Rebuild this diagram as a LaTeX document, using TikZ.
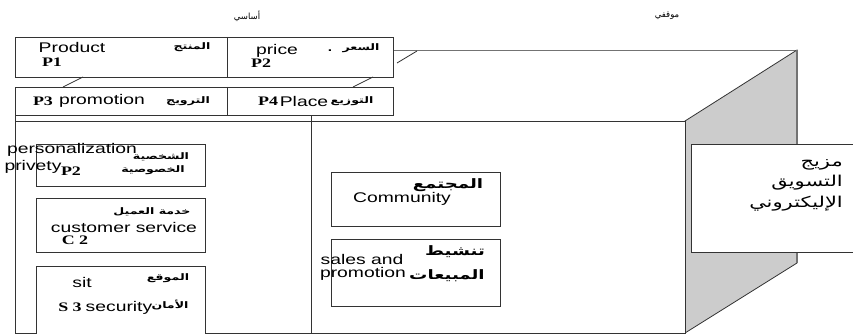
\documentclass[tikz,border=0pt]{standalone}
\usepackage{fontspec}
\TeXXeTstate=1
\newfontfamily\enfont[FakeStretch=1.38]{Liberation Sans}
\newfontfamily\sebfont[FakeStretch=1.38]{Liberation Serif}
\newfontfamily\arfont[Script=Arabic,FakeStretch=1.4]{DejaVu Sans}
\newfontfamily\arplain[Script=Arabic]{DejaVu Sans}
\begin{document}
\begin{tikzpicture}[x=1pt,y=-1pt,
  edge/.style={draw=black!80,line width=0.8pt},
  boxx/.style={draw=black!80,line width=0.8pt,fill=white},
  en/.style={inner sep=0pt,font=\enfont\fontsize{14}{16}\selectfont},
  lab/.style={inner sep=0pt,font=\sebfont\bfseries\fontsize{13}{15}\selectfont},
  ar/.style={inner sep=0pt,font=\arfont\bfseries\fontsize{9}{10}\selectfont},
  arbig/.style={inner sep=0pt,font=\arfont\bfseries\fontsize{13}{15}\selectfont},
  top/.style={inner sep=0pt,font=\arplain\fontsize{8.5}{10}\selectfont}]
\useasboundingbox (0,0) rectangle (853,334);
\clip (0,0) rectangle (853,334);
% top face of the block
\fill[white] (15,121) -- (125,50) -- (797,50) -- (685,121) -- cycle;
\draw[draw=black!55,line width=1.3pt] (393,50.5) -- (797,50.5);
% right face
\draw[edge,fill=black!20] (685,121) -- (797,50) -- (797,263) -- (685,333) -- cycle;
\draw[draw=black!55,line width=1.5pt] (797,50) -- (797,263);
% front face
\draw[boxx] (15,121) rectangle (685,333);
\draw[edge] (15,115) -- (15,333);
\draw[edge] (311,115) -- (311,333);
% P blocks
\draw[boxx] (15,37) rectangle (393,77);
\draw[edge] (227,37) -- (227,77);
\draw[boxx] (15,87) rectangle (393,115);
\draw[edge] (227,87) -- (227,115);
\draw[edge] (83,77) -- (63,87);
\draw[edge] (373,77) -- (353,87);
\draw[edge] (397,63) -- (417,51);
% inner boxes
\draw[boxx] (36,144) rectangle (205,186);
\draw[boxx] (36,198) rectangle (205,252);
\draw[boxx] (36,266) rectangle (205,336);
\draw[boxx] (331,172) rectangle (500,226);
\draw[boxx] (331,239) rectangle (500,306);
\draw[boxx] (691,144) rectangle (860,252);
% labels
\node[top] (basic) at (247,16) {\beginR أساسي\endR};
\node[top] (situ) at (667,16) {\beginR موقفي\endR};
\node[en] (product) at (72,47) {Product};
\node[lab] (p1) at (52,62) {P1};
\node[ar] (prodar) at (192,47) {\beginR المنتج\endR};
\node[en] (price) at (277,50.5) {price};
\node[lab] (p2) at (261,63) {P2};
\node[ar] (dot) at (330,51) {.};
\node[ar] (pricear) at (361,48) {\beginR السعر\endR};
\node[lab] (p3) at (43,101) {P3};
\node[en] (promo) at (102,101) {promotion};
\node[ar] (promoar) at (188,101) {\beginR الترويج\endR};
\node[lab] (p4) at (268,101) {P4};
\node[en] (place) at (304,101) {Place};
\node[ar] (placear) at (352,101) {\beginR التوزيع\endR};
\node[en] (pers) at (72,150) {personalization};
\node[en] (priv) at (33,167) {privety};
\node[lab] (p2b) at (71,171) {P2};
\node[ar] (persar) at (161,157) {\beginR الشخصية\endR};
\node[ar] (privar) at (153,170) {\beginR الخصوصية\endR};
\node[ar] (servar) at (152,212) {\beginR خدمة العميل\endR};
\node[en] (serv) at (124,227) {customer service};
\node[lab] (c2) at (75,240) {C 2};
\node[en] (sit) at (82,282) {sit};
\node[ar] (sitar) at (168,278) {\beginR الموقع\endR};
\node[lab] (s3) at (70,307) {S 3};
\node[en] (sec) at (119,308) {security};
\node[ar] (secar) at (170,305) {\beginR الأمان\endR};
\node[arbig] (commar) at (448,185) {\beginR المجتمع\endR};
\node[en] (comm) at (402,199) {Community};
\node[arbig] (salesar1) at (455,252) {\beginR تنشيط\endR};
\node[arbig] (salesar2) at (447,276) {\beginR المبيعات\endR};
\node[en] (sales1) at (362,259) {sales and};
\node[en] (sales2) at (363,274) {promotion};
\node[inner sep=0pt,anchor=north east,align=right,font=\arfont\fontsize{15}{20.5}\selectfont] (mix) at (843,159)
  {\beginR مزيج\endR\\ \beginR التسويق\endR\\ \beginR الإليكتروني\endR};
\end{tikzpicture}
\end{document}
